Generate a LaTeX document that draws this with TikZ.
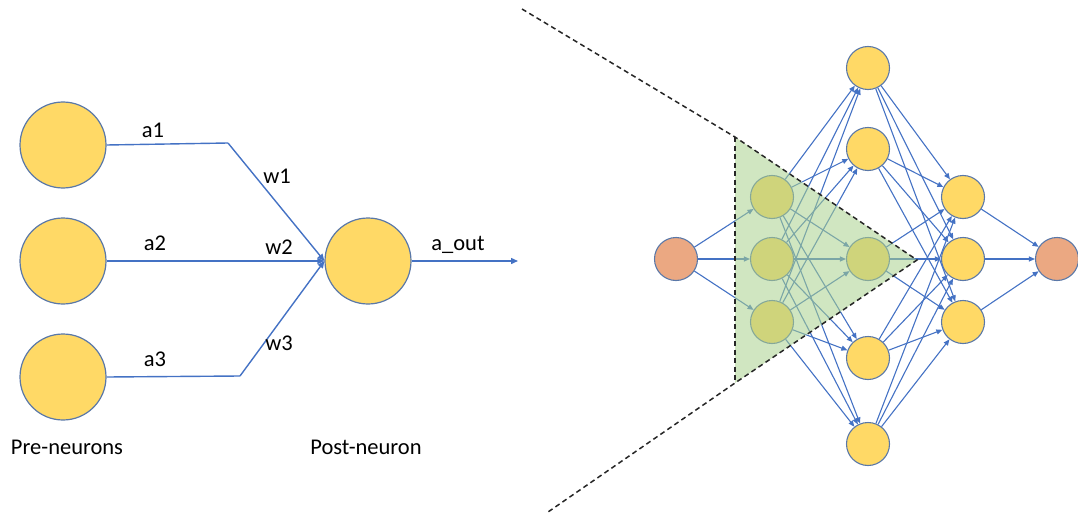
\documentclass[tikz,border=0pt]{standalone}
\usepackage{fontspec}
\setmainfont{Carlito}
\usetikzlibrary{arrows.meta}
\definecolor{lblue}{HTML}{4472C4}
\definecolor{nyellow}{HTML}{FFD966}
\definecolor{nborder}{HTML}{5A78A8}
\definecolor{norange}{HTML}{EBA882}
\definecolor{tgreen}{HTML}{A9D18E}
\tikzset{
  bigneuron/.style={circle,draw=nborder,line width=1.2pt,fill=nyellow,minimum size=86pt,inner sep=0pt},
  smallneuron/.style={circle,draw=nborder,line width=1.1pt,fill=nyellow,minimum size=43pt,inner sep=0pt},
  ioneuron/.style={smallneuron,fill=norange},
  conn/.style={draw=lblue,line width=1.4pt},
  connarrow/.style={conn,-{Triangle[length=7pt,width=6pt]}},
  nnedge/.style={draw=lblue,line width=1.1pt,-{Triangle[length=6pt,width=5pt]}},
  lbl/.style={font=\fontsize{22.5}{27}\selectfont,text=black,inner sep=0pt},
  dashline/.style={draw=black!85,line width=1.5pt,dash pattern=on 5pt off 3.5pt}
}
\begin{document}
\begin{tikzpicture}[x=1pt,y=-1pt]
\useasboundingbox (0,0) rectangle (1078,516);
% ---------- left part ----------
\node[bigneuron] (p1) at (63,145) {};
\node[bigneuron] (p2) at (63,261) {};
\node[bigneuron] (p3) at (63,377) {};
\node[bigneuron] (post) at (368,261) {};
\coordinate (b1) at (228,143);
\coordinate (b3) at (240,376);
\coordinate (outend) at (518,261);
\draw[conn] (p1.east) -- (b1);
\draw[connarrow] (b1) -- (post.west);
\draw[connarrow] (p2.east) -- (post.west);
\draw[conn] (p3.east) -- (b3);
\draw[connarrow] (b3) -- (post.west);
\draw[connarrow] (post.east) -- (outend);
\node[lbl] (la1) at (153,130) {a1};
\node[lbl] (la2) at (155,243) {a2};
\node[lbl] (la3) at (155,359) {a3};
\node[lbl] (lw1) at (277,176) {w1};
\node[lbl] (lw2) at (279,247) {w2};
\node[lbl] (lw3) at (279,343) {w3};
\node[lbl] (laout) at (458,245) {a\_out};
\node[lbl] (lpre) at (67,447) {Pre-neurons};
\node[lbl] (lpost) at (366,447) {Post-neuron};
% ---------- right part ----------
\node[ioneuron] (in) at (676,259) {};
\foreach \i/\y in {1/197,2/259,3/322}
  \node[smallneuron] (h1\i) at (772,\y) {};
\foreach \i/\y in {1/68,2/149,3/259,4/358,5/444}
  \node[smallneuron] (h2\i) at (868,\y) {};
\foreach \i/\y in {1/197,2/259,3/322}
  \node[smallneuron] (h3\i) at (963,\y) {};
\node[ioneuron] (out) at (1057,259) {};
\foreach \i in {1,2,3}
  \draw[nnedge] (in) -- (h1\i);
\foreach \i in {1,2,3}
  \foreach \j in {1,...,5}
    \draw[nnedge] (h1\i) -- (h2\j);
\foreach \j in {1,...,5}
  \foreach \k in {1,2,3}
    \draw[nnedge] (h2\j) -- (h3\k);
\foreach \k in {1,2,3}
  \draw[nnedge] (h3\k) -- (out);
% ---------- highlighted triangle ----------
\coordinate (tA) at (735,137);
\coordinate (tB) at (917,260);
\coordinate (tC) at (735,383);
\coordinate (dTop) at (522,9);
\coordinate (dBot) at (548,512);
\fill[tgreen,fill opacity=0.55] (tA) -- (tB) -- (tC) -- cycle;
\draw[dashline] (dTop) -- (tA) -- (tB) -- (tC) -- (dBot);
\draw[dashline] (tA) -- (tC);
\end{tikzpicture}
\end{document}
